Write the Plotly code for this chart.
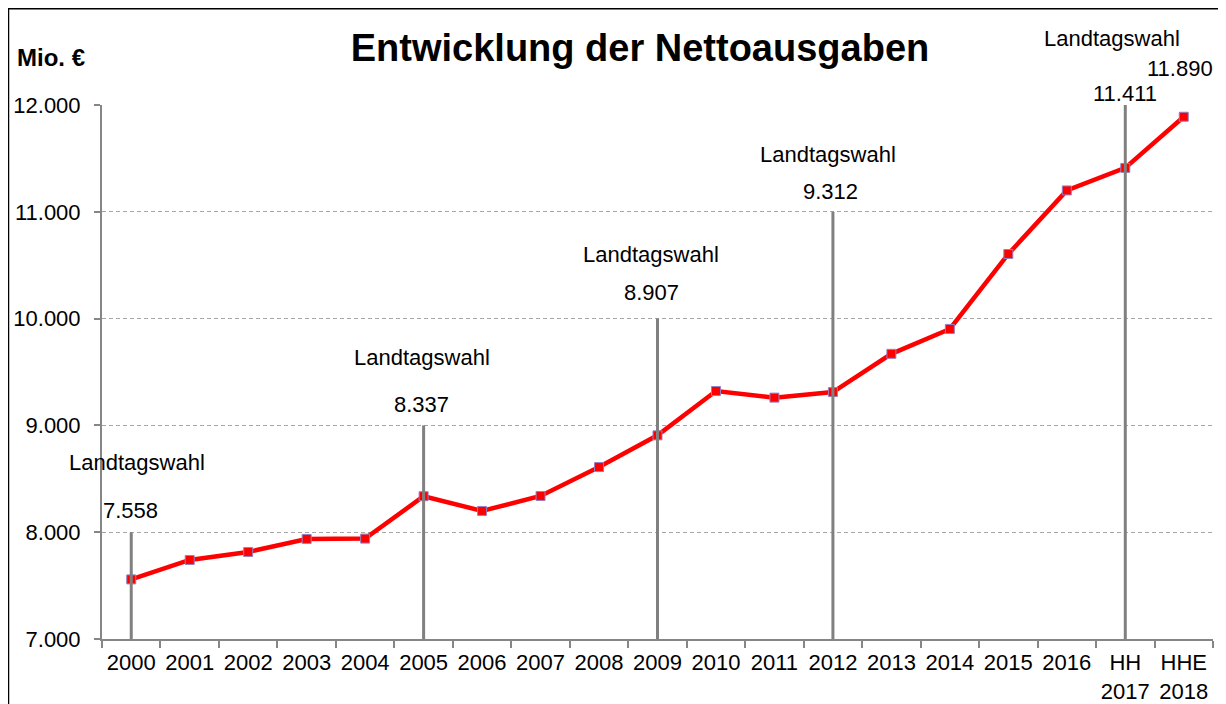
import plotly.graph_objects as go

# ---- data ----
categories = ["2000", "2001", "2002", "2003", "2004", "2005", "2006", "2007", "2008",
              "2009", "2010", "2011", "2012", "2013", "2014", "2015", "2016",
              "HH<br>2017", "HHE<br>2018"]
values = [7558, 7740, 7815, 7937, 7940, 8337, 8199, 8339, 8610,
          8907, 9322, 9260, 9312, 9670, 9903, 10605, 11200, 11411, 11890]
election_cats = ["2000", "2005", "2009", "2012", "HH<br>2017"]
election_line_tops = [8000, 9000, 10000, 11000, 12000]
election_values = [7558, 8337, 8907, 9312, 11411]
election_label = "Landtagswahl"
y_ticks = [7000, 8000, 9000, 10000, 11000, 12000]

# ---- styling / placement (pixels) ----
FONT = "Liberation Sans, Arial, sans-serif"
W, H = 1226, 704
OFF = 8  # page body margin
L, T = 94, 97
PW, PH = 1111, 534
R = W - L - PW
B = H - T - PH
value_shift = [(-1, 22), (-2, 21), (-6, 26), (-2, 20), (0, 12)]
label_shift = [(6, 70), (-2, 68), (-7, 64), (-5, 57), (-13, 67)]


def px_x(X):  # reference screen x -> paper
    return (X - OFF - L) / PW


def px_y(Y):  # reference screen y -> paper
    return (T + PH - (Y - OFF)) / PH


fig = go.Figure()

fig.add_trace(go.Scatter(
    x=categories, y=values, mode="lines+markers",
    line=dict(color="#ff0000", width=4.5),
    marker=dict(symbol="square", size=9, color="#ff0000",
                line=dict(color="#9483c8", width=1)),
    hoverinfo="x+y", showlegend=False, cliponaxis=False))

for cat, top in zip(election_cats, election_line_tops):
    fig.add_trace(go.Scatter(
        x=[cat, cat], y=[y_ticks[0], top], mode="lines",
        line=dict(color="#808080", width=3),
        hoverinfo="skip", showlegend=False, cliponaxis=False))

afont = dict(family=FONT, size=22, color="black")
annotations = []
for i, (cat, top, val) in enumerate(zip(election_cats, election_line_tops, election_values)):
    idx = categories.index(cat)
    vx, vy = value_shift[i]
    lx, ly = label_shift[i]
    annotations.append(dict(
        x=idx, y=top, xref="x", yref="y", text=f"{val:,}".replace(",", "."),
        showarrow=False, xanchor="center", yanchor="middle",
        xshift=vx, yshift=vy, font=afont))
    annotations.append(dict(
        x=idx, y=top, xref="x", yref="y", text=election_label,
        showarrow=False, xanchor="center", yanchor="middle",
        xshift=lx, yshift=ly, font=afont))

# last value (HHE 2018)
annotations.append(dict(
    x=len(categories) - 1, y=y_ticks[-1], xref="x", yref="y",
    text=f"{values[-1]:,}".replace(",", "."),
    showarrow=False, xanchor="center", yanchor="middle",
    xshift=-4, yshift=37, font=afont))

# unit label
annotations.append(dict(
    x=px_x(51), y=px_y(58), xref="paper", yref="paper",
    text="<b>Mio. €</b>", showarrow=False, xanchor="center", yanchor="middle",
    font=dict(family=FONT, size=24, color="black")))

border = dict(color="black", width=2)
shapes = [
    dict(type="line", xref="paper", yref="paper",
         x0=px_x(8), x1=px_x(1219), y0=px_y(8.5), y1=px_y(8.5), line=border, layer="above"),
    dict(type="line", xref="paper", yref="paper",
         x0=px_x(8.5), x1=px_x(8.5), y0=px_y(8), y1=px_y(720),
         line=dict(color="black", width=1.5), layer="above"),
    dict(type="line", xref="paper", yref="paper",
         x0=px_x(1218.5), x1=px_x(1218.5), y0=px_y(8), y1=px_y(720),
         line=dict(color="#333333", width=1), layer="above"),
]

fig.update_layout(
    width=W, height=H,
    margin=dict(l=L, r=R, t=T, b=B, autoexpand=False),
    paper_bgcolor="white", plot_bgcolor="white",
    separators=",.",
    title=dict(text="<b>Entwicklung der Nettoausgaben</b>",
               x=px_x(640), xref="paper", xanchor="center",
               y=1 - (48 - OFF) / H, yref="container", yanchor="middle",
               font=dict(family=FONT, size=38, color="black")),
    xaxis=dict(type="category", categoryorder="array", categoryarray=categories,
               range=[-0.5, len(categories) - 0.5], autorange=False, automargin=False,
               showgrid=False, zeroline=False,
               showline=True, linecolor="#868686", linewidth=2,
               ticks="outside", tickson="boundaries", ticklen=7,
               tickcolor="#868686", tickwidth=1.5, tickangle=0,
               ticklabelstandoff=3,
               tickfont=dict(family=FONT, size=22, color="black"),
               fixedrange=True),
    yaxis=dict(range=[y_ticks[0], y_ticks[-1]], autorange=False, automargin=False,
               tickvals=y_ticks, tickformat=",d",
               showgrid=True, gridcolor="#a6a6a6", griddash="4px,3px", gridwidth=1,
               zeroline=False,
               showline=True, linecolor="#868686", linewidth=2,
               ticks="outside", ticklen=6, tickcolor="#868686", tickwidth=1.5,
               ticklabelstandoff=9,
               tickfont=dict(family=FONT, size=22, color="black"),
               fixedrange=True),
    annotations=annotations,
    shapes=shapes,
)

fig.write_html("out.html")
